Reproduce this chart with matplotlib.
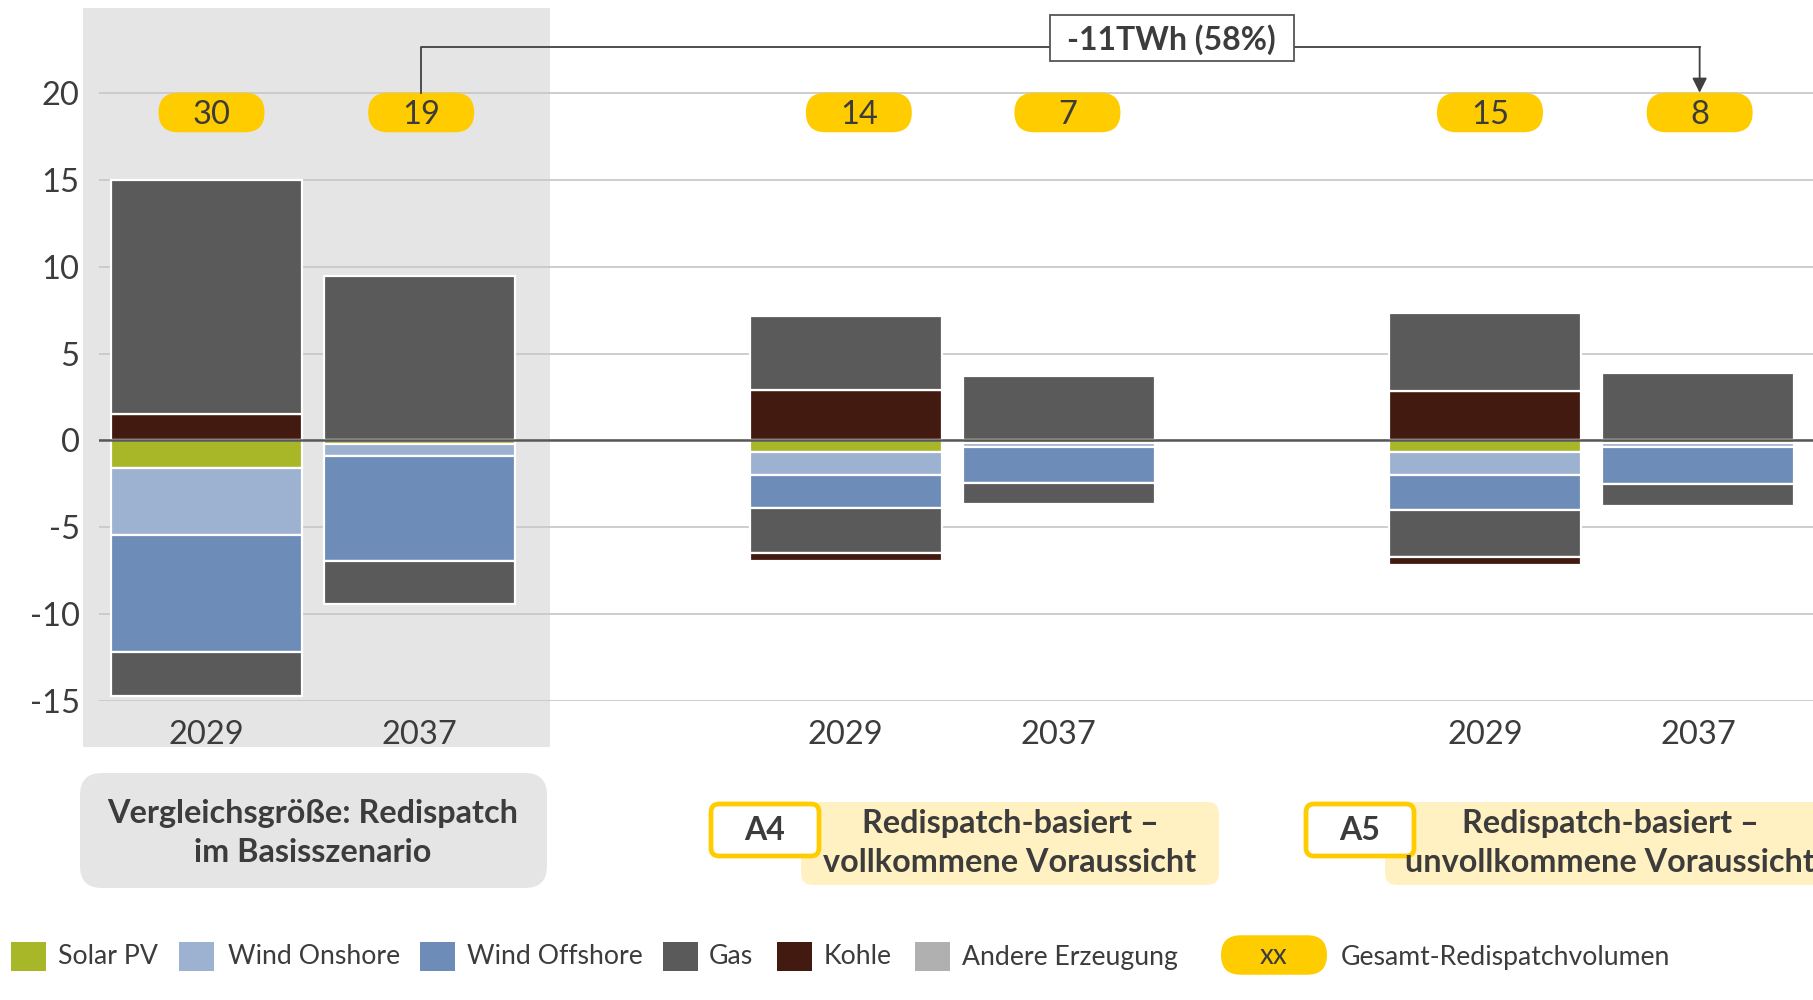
import numpy as np
import matplotlib
matplotlib.use("Agg")
import matplotlib.pyplot as plt
from matplotlib.patches import FancyBboxPatch, Rectangle
from matplotlib.transforms import ScaledTranslation

plt.rcParams['font.family'] = ['Lato', 'DejaVu Sans']
plt.rcParams['axes.unicode_minus'] = False

# ---------------- data ----------------
years = ["2029", "2037", "2029", "2037", "2029", "2037"]
slots = [0, 1, 3, 4, 6, 7]
base_title = "Vergleichsgröße: Redispatch\nim Basisszenario"
scen_codes = ["A4", "A5"]
scen_titles = ["Redispatch-basiert –\nvollkommene Voraussicht",
               "Redispatch-basiert –\nunvollkommene Voraussicht"]

kohle_pos = [1.55, 0.0, 2.9, 0.0, 2.86, 0.0]
gas_pos = [13.45, 9.5, 4.3, 3.7, 4.5, 3.86]
andere_pos = [0.0, 0.0, 0.0, 0.0, 0.0, 0.0]
solar_neg = [-1.6, -0.22, -0.69, -0.14, -0.67, -0.14]
onshore_neg = [-3.85, -0.7, -1.3, -0.23, -1.35, -0.23]
offshore_neg = [-6.73, -6.0, -1.9, -2.1, -2.0, -2.16]
gas_neg = [-2.54, -2.5, -2.6, -1.17, -2.68, -1.27]
kohle_neg = [0.0, 0.0, -0.45, 0.0, -0.46, 0.0]
andere_neg = [0.0, 0.0, 0.0, 0.0, 0.0, 0.0]
totals = [30, 19, 14, 7, 15, 8]
change_label = "-11TWh (58%)"
yticks = [-15, -10, -5, 0, 5, 10, 15, 20]

legend_labels = ["Solar PV", "Wind Onshore", "Wind Offshore", "Gas", "Kohle", "Andere Erzeugung"]
total_legend = "Gesamt-Redispatchvolumen"

# ---------------- style / layout ----------------
C_SOLAR = "#A8B727"
C_ON = "#9DB1D0"
C_OFF = "#6E8CB8"
C_GAS = "#5A5A5A"
C_KOHLE = "#431A10"
C_ANDERE = "#B0B0B0"
C_YEL = "#FFCC00"
C_LYEL = "#FFF1C1"
C_BG = "#E5E5E5"
C_TXT = "#3C3C3C"
legend_colors = [C_SOLAR, C_ON, C_OFF, C_GAS, C_KOHLE, C_ANDERE]
pill_dx = [0.024, 0.008, 0.062, 0.041, 0.024, 0.008]  # small layout offsets of the pills

W, H = 1813, 1000
fig = plt.figure(figsize=(W / 100, H / 100), dpi=100)
fig.patch.set_facecolor("white")

ax_left, ax_bottom = 99 / W, 0.2993
ax = fig.add_axes([ax_left, ax_bottom, 1 - ax_left, 0.694])
ax.set_facecolor("none")
ax.set_zorder(1)

# gray background for base scenario
fig.add_artist(Rectangle((0.83, (H - 747) / 100), 4.67, 7.39,
                         transform=fig.dpi_scale_trans, fc=C_BG, ec="none", zorder=0))

x = np.array(slots, dtype=float)

def stack(series, colors):
    bottom = np.zeros(len(x))
    for vals, col in zip(series, colors):
        v = np.array(vals, dtype=float)
        m = v != 0
        ax.bar(x[m], v[m], bottom=bottom[m], width=0.9, color=col,
               edgecolor="white", linewidth=1.6, zorder=2)
        bottom = bottom + v

stack([kohle_pos, gas_pos, andere_pos], [C_KOHLE, C_GAS, C_ANDERE])
stack([solar_neg, onshore_neg, offshore_neg, gas_neg, kohle_neg, andere_neg],
      [C_SOLAR, C_ON, C_OFF, C_GAS, C_KOHLE, C_ANDERE])

ax.axhline(0, color="#585858", lw=1.8, zorder=3)
ax.set_xlim(-0.504, 7.54)
ax.set_ylim(-15, 25)
ax.set_yticks(yticks)
ax.set_yticklabels([str(v) for v in yticks])
ax.set_xticks(x)
ax.set_xticklabels(years)
ax.yaxis.grid(True, color="#C9C9C9", lw=1.3)
ax.set_axisbelow(True)
for s in ax.spines.values():
    s.set_visible(False)
ax.tick_params(axis="both", length=0, labelsize=23.5, colors=C_TXT)
ax.tick_params(axis="y", pad=14)
ax.tick_params(axis="x", pad=13.7)

# yellow pills with totals
PILL_W, PILL_H = 1.06, 0.395  # inches
pill_y = 18.9

def pill(xd, yd, trans_base):
    tr = fig.dpi_scale_trans + ScaledTranslation(xd, yd, trans_base)
    p = FancyBboxPatch((-PILL_W / 2, -PILL_H / 2), PILL_W, PILL_H,
                       boxstyle=f"round,pad=0,rounding_size={PILL_H / 2}",
                       transform=tr, fc=C_YEL, ec="none", clip_on=False, zorder=4)
    return p, tr

for xi, dx, t in zip(x, pill_dx, totals):
    p, tr = pill(xi + dx, pill_y, ax.transData)
    ax.add_artist(p)
    ax.text(0, -0.02, str(t), transform=tr, ha="center", va="center",
            fontsize=23.5, color=C_TXT, zorder=5)

# change annotation 19 -> 8
pill_top = pill_y + 1.14
y_line = 22.65
xa, xb = x[1] + pill_dx[1], x[5] + pill_dx[5]
ax.plot([xa, xa, xb], [pill_top, y_line, y_line], color="#404040",
        lw=1.3, clip_on=False, zorder=4)
ax.annotate("", xy=(xb, pill_top), xytext=(xb, y_line),
            arrowprops=dict(arrowstyle="-|>", color="#404040", lw=1.3,
                            mutation_scale=22, shrinkA=0, shrinkB=0),
            annotation_clip=False, zorder=4)
btr = fig.dpi_scale_trans + ScaledTranslation(4.53, y_line + 0.52, ax.transData)
ax.add_artist(FancyBboxPatch((-1.22, -0.23), 2.44, 0.46, boxstyle="square,pad=0",
                             transform=btr, fc="white", ec="#555555", lw=1.3,
                             clip_on=False, zorder=6))
ax.text(0, -0.01, change_label, transform=btr, ha="center", va="center", fontsize=23,
        fontweight="bold", color=C_TXT, zorder=7)

# bottom scenario boxes
def fbox(x0, y0, x1, y1, fc, ec="none", lw=0, r=0.1, z=2):
    fig.add_artist(FancyBboxPatch((x0 / 100, (H - y1) / 100), (x1 - x0) / 100, (y1 - y0) / 100,
                                  boxstyle=f"round,pad=0,rounding_size={r}",
                                  transform=fig.dpi_scale_trans, fc=fc, ec=ec, lw=lw, zorder=z))

def ftext(px, py, s, **kw):
    fig.text(px / W, 1 - py / H, s, ha="center", va="center", color=C_TXT, **kw)

fbox(80, 773, 547, 888, C_BG, r=0.22)
ftext(313, 833, base_title, fontsize=23.3, fontweight="bold", linespacing=1.38, zorder=4)

for code, title, sx, lx0, lx1, tx in zip(scen_codes, scen_titles,
                                         [711, 1306], [801, 1385], [1219, 1840], [1010, 1610]):
    fbox(lx0, 802, lx1, 885, C_LYEL, r=0.12, z=2)
    fbox(sx, 804, sx + 108, 856, "white", ec=C_YEL, lw=3.4, r=0.08, z=3)
    ftext(sx + 54, 830, code, fontsize=23, fontweight="bold", zorder=4)
    ftext(tx, 843, title, fontsize=23.3, fontweight="bold", linespacing=1.38, zorder=4)

# legend
sq_x = [11, 179, 420, 663, 777, 915]
tx_x = [58, 228, 467, 709, 824, 962]
for sx, txx, lab, col in zip(sq_x, tx_x, legend_labels, legend_colors):
    fig.add_artist(Rectangle((sx / 100, (H - 971) / 100), 0.35, 0.29,
                             transform=fig.dpi_scale_trans, fc=col, ec="none"))
    fig.text(txx / W, 1 - 957 / H, lab, ha="left", va="center", fontsize=19.2, color=C_TXT)

lp, ltr = pill(12.74, (H - 955) / 100, fig.dpi_scale_trans)
fig.add_artist(lp)
fig.text(0, -0.01, "xx", transform=ltr, ha="center", va="center", fontsize=20,
         color=C_TXT, zorder=6)
fig.text(1341 / W, 1 - 957 / H, total_legend, ha="left", va="center", fontsize=19.2, color=C_TXT)

fig.savefig("out.png", dpi=100, facecolor="white")
